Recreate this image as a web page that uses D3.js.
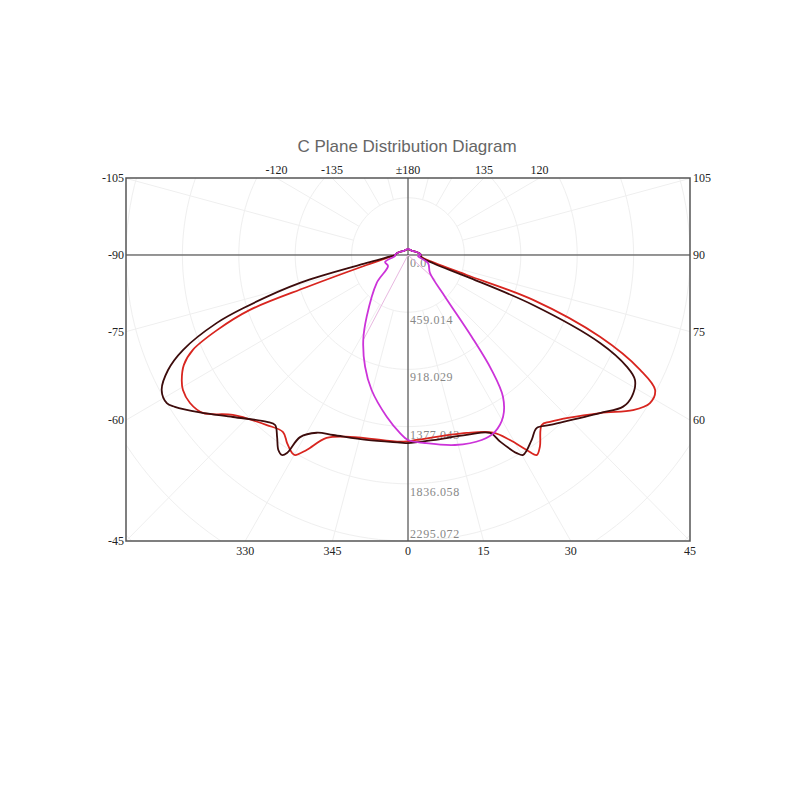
<!DOCTYPE html>
<html>
<head>
<meta charset="utf-8">
<script src="https://cdn.jsdelivr.net/npm/d3@7"></script>
<style>
  html, body { margin: 0; padding: 0; background: #fff; }
  svg { display: block; }
</style>
</head>
<body>
<svg id="chart" width="800" height="800"></svg>
<script>
// ---------------- DATA ----------------
const title = "C Plane Distribution Diagram";
const maxIntensity = 2295.072;
const ringValues = [459.014, 918.029, 1377.043, 1836.058, 2295.072];
const ringLabels = ["0.0", "459.014", "918.029", "1377.043", "1836.058", "2295.072"];

const leftAngles = [-105, -90, -75, -60, -45];
const leftLabels = ["-105", "-90", "-75", "-60", "-45"];
const rightAngles = [105, 90, 75, 60];
const rightLabels = ["105", "90", "75", "60"];
const bottomAngles = [-30, -15, 0, 15, 30, 45];
const bottomLabels = ["330", "345", "0", "15", "30", "45"];
const topAngles = [-120, -135, 180, 135, 120];
const topLabels = ["-120", "-135", "\u00b1180", "135", "120"];

// gamma angle (deg from nadir, negative = opposite half plane), intensity (cd)
const darkAngles = [-180, -150, -135, -120, -100, -90, -85, -79.2, -75.7, -72.4, -70.7, -67.4, -64.7, -61.6, -58.8, -57.3, -53.3, -47.6, -40.6, -38.4, -36.1, -34.0, -32.6, -31.8, -31.0, -27.5, -22.9, -12.8, -2.5, 0, 7.8, 18.3, 25.1, 26.6, 29.1, 30.3, 34.1, 37.0, 40.3, 50.9, 55.2, 58.0, 61.5, 63.3, 65.7, 68.5, 70.0, 72, 80, 90, 100, 120, 135, 150, 180];
const darkValues = [48, 45, 47, 60, 90, 105, 150, 342, 907, 1400, 1648, 1984, 2160, 2279, 2295, 2255, 2113, 1928, 1764, 1741, 1808, 1887, 1905, 1869, 1705, 1608, 1568, 1522, 1506, 1509, 1499, 1521, 1577, 1675, 1819, 1858, 1794, 1739, 1788, 2012, 2132, 2147, 2102, 1993, 1715, 1094, 508, 220, 110, 105, 90, 60, 47, 45, 48];

const redAngles = [-180, -150, -135, -120, -100, -90, -84, -76.6, -72.65, -71.1, -68.8, -66.5, -64.2, -61.4, -59.4, -56.2, -52.8, -48.0, -40.1, -35.6, -33.1, -30.7, -29.8, -27.8, -24.3, -17.9, -2.5, 0, 2.7, 18.5, 25.9, 29.2, 31.7, 33.1, 34.9, 38.6, 40.8, 50.9, 55.8, 58.9, 61.7, 64.0, 67.2, 70.5, 71.4, 74, 82, 90, 100, 120, 135, 150, 180];
const redValues = [48, 45, 47, 60, 90, 105, 150, 346, 861, 1360, 1667, 1909, 2026, 2097, 2128, 2135, 2096, 1918, 1784, 1747, 1802, 1848, 1850, 1769, 1611, 1533, 1500, 1495, 1486, 1506, 1585, 1701, 1839, 1917, 1876, 1745, 1768, 2012, 2214, 2300, 2284, 2102, 1695, 1080, 504, 220, 110, 105, 90, 60, 47, 45, 48];

const magentaAngles = [-180, -150, -135, -120, -100, -90, -85.7, -73.3, -61.5, -48.6, -34.2, -28.1, -21.3, -15.3, -7.6, -2.6, 0, 5.2, 14.1, 22.0, 26.5, 30.8, 34.2, 36.4, 38.3, 42.0, 51.1, 68.5, 84.4, 90, 100, 120, 135, 150, 180];
const magentaValues = [50, 45, 47, 60, 90, 105, 106, 195, 185, 340, 598, 773, 962, 1123, 1309, 1430, 1485, 1515, 1572, 1601, 1585, 1511, 1375, 1147, 836, 450, 230, 175, 82, 105, 90, 60, 47, 45, 50];

// faint stray segments (light pink)
const faintLeftAngles = [-28.1, -28.1];
const faintLeftValues = [0, 773];
const faintRightAngles = [48, 48];
const faintRightValues = [0, 300];

// ---------------- DRAW ----------------
const svg = d3.select("#chart");
const frame = { left: 126, right: 690, top: 178, bottom: 541 };
const topValue = -617.9;

const xS = d3.scaleLinear().domain([-maxIntensity, maxIntensity]).range([frame.left, frame.right]);
const yS = d3.scaleLinear().domain([topValue, maxIntensity]).range([frame.top, frame.bottom]);
const rad = d => d * Math.PI / 180;
const px = (a, v) => xS(v * Math.sin(rad(a)));
const py = (a, v) => yS(v * Math.cos(rad(a)));

svg.append("defs").append("clipPath").attr("id", "clipFrame")
  .append("rect")
  .attr("x", frame.left).attr("y", frame.top)
  .attr("width", frame.right - frame.left).attr("height", frame.bottom - frame.top);

svg.append("text")
  .attr("x", 407).attr("y", 152)
  .attr("text-anchor", "middle")
  .attr("font-family", "Liberation Sans, Arial, sans-serif")
  .attr("font-size", 17)
  .attr("fill", "#666")
  .text(title);

const grid = svg.append("g").attr("clip-path", "url(#clipFrame)");
const circleLine = d3.line().x(d => d[0]).y(d => d[1]);
const step = ringValues[0];
for (let k = 1; k <= 8; k++) {
  const r = step * k;
  const pts = d3.range(0, 361, 2).map(a => [px(a, r), py(a, r)]);
  grid.append("path").attr("d", circleLine(pts))
    .attr("fill", "none").attr("stroke", "#efefef").attr("stroke-width", 1);
}
d3.range(-180, 180, 15).forEach(a => {
  grid.append("line")
    .attr("x1", px(a, step)).attr("y1", py(a, step))
    .attr("x2", px(a, 6000)).attr("y2", py(a, 6000))
    .attr("stroke", "#efefef").attr("stroke-width", 1);
});

// main axes
svg.append("line").attr("x1", frame.left).attr("x2", frame.right)
  .attr("y1", yS(0)).attr("y2", yS(0)).attr("stroke", "#333").attr("stroke-width", 1);
svg.append("line").attr("x1", xS(0)).attr("x2", xS(0))
  .attr("y1", frame.top).attr("y2", frame.bottom).attr("stroke", "#333").attr("stroke-width", 1);

svg.append("rect")
  .attr("x", frame.left).attr("y", frame.top)
  .attr("width", frame.right - frame.left).attr("height", frame.bottom - frame.top)
  .attr("fill", "none").attr("stroke", "#555").attr("stroke-width", 1.5);

// intensity labels
const ringLabelValues = [0].concat(ringValues);
ringLabelValues.forEach((v, i) => {
  let y = yS(v) + 12;
  if (y > frame.bottom - 3) y = frame.bottom - 3;
  svg.append("text")
    .attr("x", xS(0) + 2).attr("y", y)
    .attr("font-family", "Liberation Serif, DejaVu Serif, serif")
    .attr("font-size", 12)
    .attr("letter-spacing", 0.6)
    .attr("fill", "#888")
    .text(ringLabels[i]);
});

// edge angle labels
const lblFont = "Liberation Serif, DejaVu Serif, serif";
function addLabel(x, y, txt, anchor) {
  svg.append("text").attr("x", x).attr("y", y)
    .attr("text-anchor", anchor)
    .attr("font-family", lblFont).attr("font-size", 12)
    .attr("fill", "#222").text(txt);
}
leftAngles.forEach((a, i) => {
  const t = -maxIntensity / Math.sin(rad(a));
  addLabel(frame.left - 2, yS(t * Math.cos(rad(a))) + 4, leftLabels[i], "end");
});
rightAngles.forEach((a, i) => {
  const t = maxIntensity / Math.sin(rad(a));
  addLabel(frame.right + 3, yS(t * Math.cos(rad(a))) + 4, rightLabels[i], "start");
});
bottomAngles.forEach((a, i) => {
  addLabel(xS(maxIntensity * Math.tan(rad(a))), frame.bottom + 14, bottomLabels[i], "middle");
});
topAngles.forEach((a, i) => {
  const t = topValue / Math.cos(rad(a));
  addLabel(xS(t * Math.sin(rad(a))), frame.top - 4, topLabels[i], "middle");
});

// curves
const curveGen = d3.line().x(d => px(d[0], d[1])).y(d => py(d[0], d[1]))
  .curve(d3.curveCatmullRom.alpha(0.5));
const segGen = d3.line().x(d => px(d[0], d[1])).y(d => py(d[0], d[1]));
const zipPts = (A, V) => A.map((a, i) => [a, V[i]]);

const curves = svg.append("g");
curves.append("path").attr("d", segGen(zipPts(faintLeftAngles, faintLeftValues)))
  .attr("fill", "none").attr("stroke", "#e8b8e0").attr("stroke-width", 1);
curves.append("path").attr("d", segGen(zipPts(faintRightAngles, faintRightValues)))
  .attr("fill", "none").attr("stroke", "#e8b8e0").attr("stroke-width", 1);

[
  { A: redAngles, V: redValues, c: "#d8251f" },
  { A: darkAngles, V: darkValues, c: "#3d0c0c" },
  { A: magentaAngles, V: magentaValues, c: "#cc33d9" }
].forEach(s => {
  curves.append("path").attr("d", curveGen(zipPts(s.A, s.V)))
    .attr("fill", "none").attr("stroke", s.c).attr("stroke-width", 1.8)
    .attr("stroke-linejoin", "round");
});
</script>
</body>
</html>
